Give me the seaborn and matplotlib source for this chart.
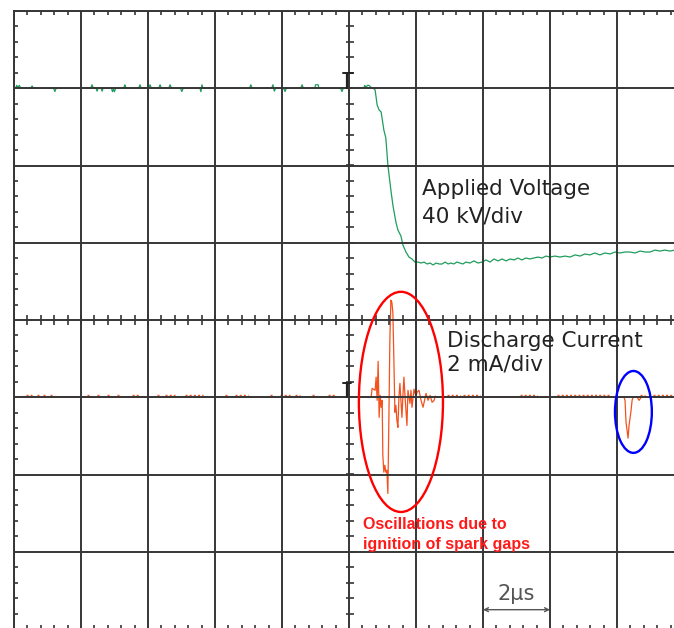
import numpy as np
import pandas as pd
import matplotlib.pyplot as plt
from matplotlib.patches import Ellipse
from matplotlib.ticker import MultipleLocator
import seaborn as sns

# scope settings: 2 us/div horizontally, 40 kV/div and 2 mA/div vertically
V_PER_DIV = 40.0
I_PER_DIV = 2.0
V_OFFSET = 0.0    # voltage ground on centre line (div)
I_OFFSET = -1.0   # current ground one div below centre

# applied voltage trace (time in us, voltage in kV)
volt_t = [-10.0, -9.95, -9.92, -9.88, -9.84, -9.80, -9.50, -9.46, -9.42,
          -8.82, -8.78, -8.74, -7.71, -7.67, -7.63, -7.55, -7.52, -7.49,
          -7.40, -7.37, -7.34, -7.09, -7.06, -7.03, -7.00, -6.97,
          -6.73, -6.69, -6.65, -6.28, -6.24, -6.20, -5.98, -5.94, -5.90,
          -5.68, -5.64, -5.60, -5.38, -5.34, -5.30, -5.03, -4.99, -4.95,
          -4.45, -4.42, -4.39, -4.36, -2.97, -2.93, -2.89,
          -2.31, -2.27, -2.23, -2.19, -1.95, -1.91, -1.87, -1.44, -1.40, -1.36,
          -1.02, -1.00, -0.92, -0.90, -0.25, -0.21, -0.17,
          0.44, 0.47, 0.51, 0.55, 0.60, 0.65,
          0.72, 0.78, 0.84, 0.90, 0.96, 1.04, 1.10, 1.16, 1.25, 1.31, 1.40,
          1.46, 1.55, 1.61, 1.70, 1.79, 1.88, 1.97, 2.06, 2.15, 2.24, 2.33,
          2.42, 2.51, 2.60, 2.69, 2.78, 2.87, 2.96, 3.04, 3.13, 3.22, 3.31,
          3.40, 3.49, 3.61, 3.73, 3.85, 3.97, 4.09, 4.21, 4.33, 4.45, 4.57,
          4.69, 4.81, 4.93, 5.04, 5.16, 5.28, 5.40, 5.52, 5.64, 5.76, 5.88,
          6.00, 6.15, 6.30, 6.45, 6.60, 6.75, 6.90, 7.04, 7.19, 7.34, 7.49,
          7.64, 7.79, 7.94, 8.09, 8.24, 8.39, 8.54, 8.69, 8.84, 8.99, 9.13,
          9.28, 9.43, 9.58, 9.73]
volt_kv = [120, 120, 121.5, 120.5, 121.5, 120, 120, 121.2, 120,
           120, 118.3, 120, 120, 121.8, 120, 120, 118.5, 120,
           120, 118.5, 120, 120, 118.2, 119.5, 118.2, 120,
           120, 121.8, 120, 120, 121.8, 120, 120, 121.8, 120,
           120, 121.8, 120, 120, 121.8, 120, 120, 118.3, 120,
           120, 118.2, 121.8, 120, 120, 121.8, 120,
           120, 121.8, 118.5, 120, 120, 118.3, 120, 120, 121.8, 120,
           120, 121.8, 121.8, 120, 120, 118.3, 120,
           120, 121.5, 120.5, 121.5, 121.5, 120.5,
           120.1, 119.1, 111.3, 108.7, 107.7, 98.4, 94.2, 80.3, 67.3, 59.5, 50.7,
           46.6, 43.5, 38.8, 35.2, 32.6, 31.6, 30.0, 30.0, 29.5, 30.0, 29.0,
           29.5, 28.5, 29.5, 29.0, 29.0, 30.0, 29.0, 29.5, 29.0, 30.0, 29.5,
           29.0, 30.0, 29.5, 30.6, 29.5, 30.0, 31.1, 30.0, 31.6, 30.6, 31.6,
           30.6, 31.6, 31.1, 32.1, 31.1, 32.1, 31.6, 32.1, 32.6, 32.1, 33.1,
           32.6, 33.1, 32.6, 33.1, 32.6, 33.7, 33.1, 34.2, 33.7, 34.7, 33.7,
           34.7, 34.2, 35.2, 34.7, 35.2, 35.2, 34.7, 35.7, 35.2, 35.2, 36.2,
           35.7, 36.2, 35.7, 36.2]

# discharge current trace (time in us, current in mA)
curr_t = [-10.0, 0.66, 0.69, 0.78, 0.81, 0.84, 0.87, 0.90, 0.93, 0.96, 0.99,
          1.01, 1.04, 1.07, 1.10, 1.13, 1.16, 1.19, 1.22, 1.25, 1.28, 1.31,
          1.34, 1.37, 1.40, 1.43, 1.46, 1.49, 1.52, 1.55, 1.58, 1.61, 1.64,
          1.67, 1.73, 1.76, 1.82, 1.85, 1.88, 1.94, 2.00, 2.03, 2.09, 2.15,
          2.21, 2.30, 2.36, 2.42, 2.48, 2.54, 2.57, 2.63,
          8.21, 8.24, 8.27, 8.30, 8.33, 8.36, 8.42, 8.45, 8.48, 8.60, 8.66,
          8.72, 10.0]
curr_ma = [0, 0, 0.23, 0.18, 0.52, -0.08, 0.93, -0.52, 0.05, -0.26, -0.08,
           -1.50, -1.94, -1.76, -1.94, -1.89, -2.49, -0.60, 1.48, 2.51, 2.46, 2.18,
           0.96, -0.39, -0.21, -0.60, -0.78, 0, 0.36, -0.08, -0.52, 0.05, 0.52,
           0.05, -0.73, 0.18, -0.16, 0.18, -0.26, 0.21, 0, 0.13, 0.18, -0.08,
           -0.26, 0.10, -0.08, 0.05, -0.13, -0.08, 0.03, 0,
           0, -0.08, -0.65, -0.85, -1.06, -0.73, -0.34, -0.08, 0, 0, -0.08,
           0, 0]

# short noise segments riding just above the current baseline (us)
noise_start = [-9.64, -9.31, -9.13, -8.93, -7.82, -7.52, -7.22, -6.93, -6.48,
               -5.73, -5.49, -4.90, -3.70, -3.40, -2.36, -2.06, -1.61, -1.10,
               -0.63, 2.93, 3.40, 5.10, 6.21, 8.69, 9.07]
noise_end = [-9.46, -9.25, -9.07, -8.84, -7.76, -7.46, -7.13, -6.87, -6.24,
             -5.67, -5.19, -4.36, -3.64, -3.01, -2.24, -1.76, -1.46, -1.01,
             -0.42, 3.31, 3.91, 5.61, 7.79, 8.84, 9.67]
noise_ma = 0.06

volt = pd.DataFrame({'t': volt_t, 'kV': volt_kv})
volt['div'] = volt['kV'] / V_PER_DIV + V_OFFSET
curr = pd.DataFrame({'t': curr_t, 'mA': curr_ma})
curr['div'] = curr['mA'] / I_PER_DIV + I_OFFSET

sns.set_style("white")
plt.rcParams['font.family'] = ['DejaVu Sans']

grid_c = '#363636'
fig = plt.figure(figsize=(6.74, 6.28), dpi=100)
ax = fig.add_axes([14/674, -1/628, 670/674, 618/628])
ax.set_xlim(-10, 10)
ax.set_ylim(-4, 4)

# graticule
ax.xaxis.set_major_locator(MultipleLocator(2))
ax.yaxis.set_major_locator(MultipleLocator(1))
ax.xaxis.set_minor_locator(MultipleLocator(0.4))
ax.yaxis.set_minor_locator(MultipleLocator(0.2))
ax.grid(True, which='major', color=grid_c, lw=1.4)
ax.set_axisbelow(False)
ax.tick_params(which='major', length=0, labelbottom=False, labelleft=False)
ax.tick_params(which='minor', direction='in', length=3, width=1.2, color=grid_c,
               left=True, top=True, bottom=True, right=False)
for s in ax.spines.values():
    s.set_color(grid_c)
    s.set_linewidth(1.4)

# crosshair ticks on the centre lines
ax.vlines(np.arange(-10, 10.01, 0.4), -0.07, 0.07, color=grid_c, lw=1.2, zorder=2.6)
ax.hlines(np.arange(-4, 4.01, 0.2), -0.09, 0.16, color=grid_c, lw=1.2, zorder=2.6)

# traces
sns.lineplot(data=volt, x='t', y='div', sort=False, estimator=None,
             color='#1f9d5c', lw=0.9, ax=ax, zorder=2)
sns.lineplot(data=curr, x='t', y='div', sort=False, estimator=None,
             color='#f4511e', lw=0.9, ax=ax, zorder=2)
ax.hlines(np.full(len(noise_start), noise_ma / I_PER_DIV + I_OFFSET),
          noise_start, noise_end, color='#f4511e', lw=1.0, linestyles=(0, (1.5, 1.5)), zorder=2)
ax.set_xlabel('')
ax.set_ylabel('')

# trigger markers
ax.plot([-0.18, 0.12], [3.2, 3.2], color='#222222', lw=1.4, zorder=4)
ax.plot([-0.06, -0.06], [3.2, 3.0], color='#222222', lw=1.6, zorder=4)
ax.plot([-0.18, 0.06], [-0.82, -0.82], color='#222222', lw=1.4, zorder=4)
ax.plot([-0.06, -0.06], [-0.82, -1.0], color='#222222', lw=1.6, zorder=4)

# labels
lab = dict(fontsize=15.5, color='#222222', va='baseline', zorder=5)
ax.text(2.18, 1.62, 'Applied Voltage', **lab)
ax.text(2.18, 1.26, '40 kV/div', **lab)
ax.text(2.93, -0.35, 'Discharge Current', **lab)
ax.text(2.93, -0.66, '2 mA/div', **lab)
red = dict(fontsize=11.5, color='#ff1a1a', fontweight='bold',
           family=['Liberation Sans', 'DejaVu Sans'], va='baseline', zorder=5)
ax.text(0.42, -2.71, 'Oscillations due to', **red)
ax.text(0.42, -2.96, 'ignition of spark gaps', **red)

# highlight ellipses
ax.add_patch(Ellipse((1.55, -1.06), 2.51, 2.85, fill=False, ec='#ff0000', lw=1.7, zorder=4))
ax.add_patch(Ellipse((8.49, -1.19), 1.10, 1.06, fill=False, ec='#0000ff', lw=1.7, zorder=4))

# time scale marker
ax.text(5.0, -3.63, '2μs', fontsize=15, color='#555555', ha='center', va='baseline',
        family=['Liberation Sans Narrow', 'DejaVu Sans'], zorder=5)
ax.annotate('', xy=(4.0, -3.75), xytext=(6.0, -3.75),
            arrowprops=dict(arrowstyle='<->', color='#555555', lw=1.0,
                            shrinkA=0, shrinkB=0, mutation_scale=7), zorder=5)

fig.savefig('out.png', dpi=100, facecolor='white')
